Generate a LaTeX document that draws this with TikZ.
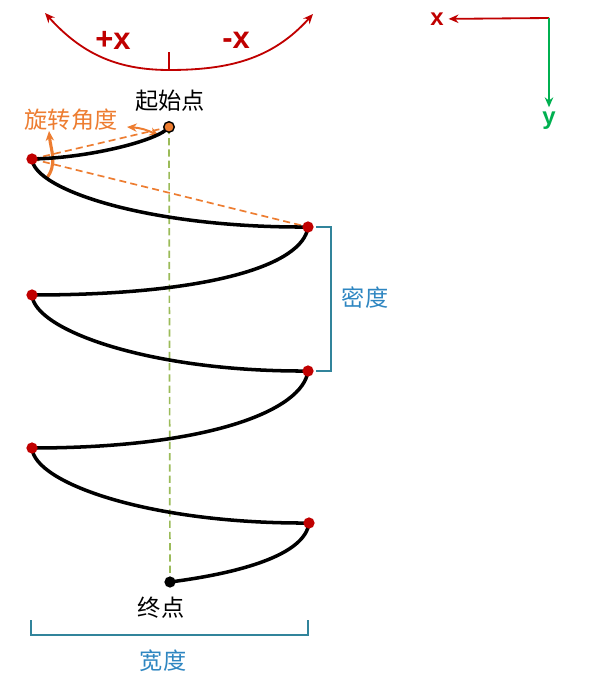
\documentclass[tikz,border=0pt]{standalone}
\usepackage{fontspec}
\setmainfont{Liberation Sans}
\newfontfamily\cjk{Noto Sans CJK SC}
\usetikzlibrary{arrows.meta}

\definecolor{darkred}{HTML}{C00000}
\definecolor{axisgreen}{HTML}{00B050}
\definecolor{dorange}{HTML}{ED7D31}
\definecolor{midgreen}{HTML}{9BBB59}
\definecolor{teal}{HTML}{31849B}
\definecolor{lblue}{HTML}{2E86C1}

\begin{document}
\begin{tikzpicture}
[
	x=0.025cm,y=0.025cm,
	redpt/.style={circle,fill=darkred,inner sep=0pt,minimum size=8pt},
	startpt/.style={circle,draw=black,fill=dorange,line width=1pt,inner sep=0pt,minimum size=7.5pt},
	endpt/.style={circle,fill=black,inner sep=0pt,minimum size=8pt},
	coil/.style={line width=2.5pt,black},
	cn/.style={font=\cjk\fontsize{16.5}{18}\selectfont},
	bigx/.style={font=\bfseries\fontsize{22}{24}\selectfont,text=darkred},
	brace/.style={teal,line width=2pt},
	>={Stealth[length=7pt,width=6pt]}
]

	\useasboundingbox (0,0) rectangle (594,-682);

	% direction arc
	\coordinate (al) at (45,-13);
	\coordinate (ab) at (169,-70);
	\coordinate (ar) at (313,-14);
	\draw[darkred,line width=1.3pt,<->] (al) to[out=-48,in=180] (ab) to[out=0,in=-132] (ar);
	\draw[darkred,line width=1.3pt] (ab) -- (169,-52);
	\node[bigx] (px) at (113,-40) {+x};
	\node[bigx] (mx) at (236,-40) {-x};

	% axes
	\coordinate (o) at (549,-18);
	\node[font=\bfseries\fontsize{17}{18}\selectfont,text=darkred] (xl) at (437,-19) {x};
	\node[font=\bfseries\fontsize{17}{18}\selectfont,text=axisgreen] (yl) at (549,-121) {y};
	\draw[darkred,line width=1.3pt,->] (o) -- (xl);
	\draw[axisgreen,line width=1.3pt,->] (o) -- (yl);

	% points of the coil
	\coordinate (s) at (169,-127);
	\coordinate (l1) at (32,-159);
	\coordinate (r1) at (308,-227);
	\coordinate (l2) at (32,-295);
	\coordinate (r2) at (308,-371);
	\coordinate (l3) at (32,-448);
	\coordinate (r3) at (309,-523);
	\coordinate (e) at (170,-582);

	% axis of the coil
	\draw[midgreen,line width=1.2pt,dash pattern=on 5pt off 3pt] (s) -- (e);

	% rotation angle
	\draw[dorange,line width=1.2pt,dash pattern=on 5pt off 3pt] (l1) -- (s);
	\draw[dorange,line width=1.2pt,dash pattern=on 5pt off 3pt] (l1) -- (r1);
	\coordinate (ra) at (127,-127);
	\coordinate (rb) at (159,-136);
	\draw[dorange,line width=1.4pt,<->] (ra) to[bend left=12] (rb);
	\coordinate (va) at (46,-179);
	\coordinate (vb) at (49,-131);
	\draw[dorange,line width=2.2pt,->] (va) to[out=50,in=-85] (vb);

	% coil
	\draw[coil] (s) .. controls (160,-140) and (90,-158) .. (l1)
		.. controls (34,-190) and (150,-228) .. (r1)
		.. controls (303,-265) and (210,-295) .. (l2)
		.. controls (34,-330) and (150,-372) .. (r2)
		.. controls (303,-410) and (210,-448) .. (l3)
		.. controls (34,-483) and (150,-524) .. (r3)
		.. controls (305,-555) and (240,-573) .. (e);

	\node[startpt] (sp) at (s) {};
	\node[endpt] (ep) at (e) {};
	\foreach \p in {l1,r1,l2,r2,l3,r3}
		\node[redpt] (\p pt) at (\p) {};

	% labels
	\node[cn] (start) at (170,-101) {起始点};
	\node[cn] (end) at (161,-608) {终点};
	\node[cn,text=dorange] (angle) at (71,-120) {旋转角度};

	% density bracket
	\coordinate (d1) at (316,-227);
	\coordinate (d2) at (316,-371);
	\draw[brace] (d1) -- (331,-227) -- (331,-371) -- (d2);
	\node[cn,text=lblue] (dens) at (365,-298) {密度};

	% width bracket
	\coordinate (w1) at (31,-620);
	\coordinate (w2) at (308,-620);
	\draw[brace] (w1) -- (31,-635) -- (308,-635) -- (w2);
	\node[cn,text=lblue] (width) at (163,-661) {宽度};

\end{tikzpicture}
\end{document}
